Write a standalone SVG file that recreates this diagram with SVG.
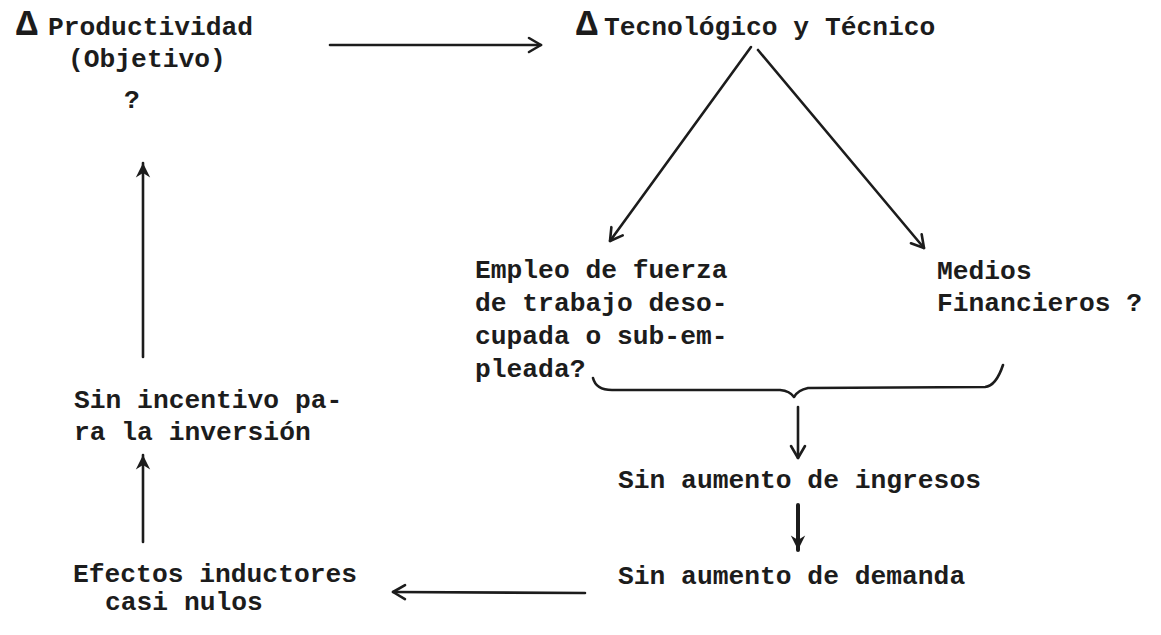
<svg xmlns="http://www.w3.org/2000/svg" width="1161" height="635" viewBox="0 0 1161 635">
<style>
text{font-family:"Liberation Mono","Courier New",monospace;font-size:26.3px;font-weight:bold;fill:#1c1c1c}
.d{font-size:36px;font-weight:bold}
.c{fill:none;stroke:#1c1c1c;stroke-width:2.6;stroke-linecap:round;stroke-linejoin:round}
.t{stroke-width:4}
</style>
<defs>
<marker id="open" viewBox="0 0 20 20" refX="17" refY="10" markerWidth="20" markerHeight="20" markerUnits="userSpaceOnUse" orient="auto">
<path d="M5,3 L17,10 L5,17" fill="none" stroke="#1c1c1c" stroke-width="2.6" stroke-linecap="round" stroke-linejoin="round"/>
</marker>
<marker id="fill" viewBox="0 0 20 20" refX="18" refY="10" markerWidth="18" markerHeight="18" markerUnits="userSpaceOnUse" orient="auto">
<path d="M2,2 L18,10 L2,18 L7,10 z" fill="#1c1c1c"/>
</marker>
</defs>
<rect width="1161" height="635" fill="#ffffff"/>
<g id="connectors">
<path class="c" d="M330,45 L541,45" marker-end="url(#open)"/>
<path class="c" d="M751,47 L610,241" marker-end="url(#open)"/>
<path class="c" d="M758,50 L924,248" marker-end="url(#open)"/>
<path class="c" d="M593,378 Q596,390 612,390 L780,390 Q790,391 794,397 Q798,390 808,388 L985,387 Q996,386 1003,365"/>
<path class="c" d="M798,407 L798,458" marker-end="url(#open)"/>
<path class="c t" d="M798,505 L798,550" marker-end="url(#fill)"/>
<path class="c" d="M585,593 L393,592" marker-end="url(#open)"/>
<path class="c" d="M143,542 L143,455" marker-end="url(#fill)"/>
<path class="c" d="M143,357 L143,163" marker-end="url(#fill)"/>
</g>
<g id="n-productividad">
<text y="35"><tspan class="d" x="16">Δ</tspan><tspan x="48">Productividad</tspan></text>
<text x="68" y="67">(Objetivo)</text>
<text x="124" y="108">?</text>
</g>
<g id="n-tecnologico">
<text y="35"><tspan class="d" x="576">Δ</tspan><tspan x="604">Tecnológico y Técnico</tspan></text>
</g>
<g id="n-empleo">
<text x="475" y="278">Empleo de fuerza</text>
<text x="475" y="311">de trabajo deso-</text>
<text x="475" y="344">cupada o sub-em-</text>
<text x="475" y="377">pleada?</text>
</g>
<g id="n-medios">
<text x="937" y="279">Medios</text>
<text x="937" y="311">Financieros ?</text>
</g>
<g id="n-ingresos">
<text x="618" y="488">Sin aumento de ingresos</text>
</g>
<g id="n-demanda">
<text x="618" y="584">Sin aumento de demanda</text>
</g>
<g id="n-efectos">
<text x="73" y="582">Efectos inductores</text>
<text x="105" y="610">casi nulos</text>
</g>
<g id="n-incentivo">
<text x="74" y="408">Sin incentivo pa-</text>
<text x="74" y="440">ra la inversión</text>
</g>
</svg>
